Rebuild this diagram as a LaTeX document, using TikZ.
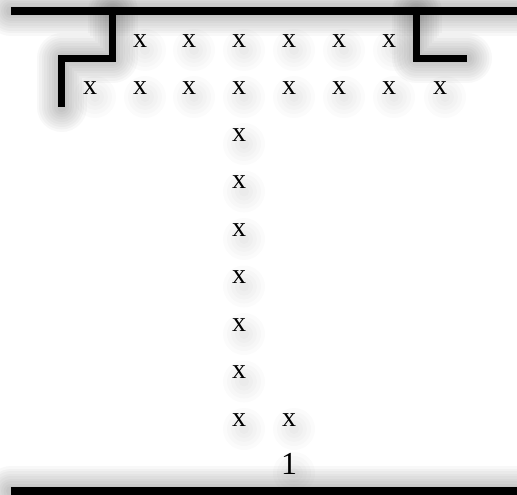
\documentclass[tikz,border=0pt]{standalone}
\usepackage{fontspec}
\setmainfont{Liberation Serif}
\pgfdeclarelayer{bg}
\pgfsetlayers{bg,main}
\tikzset{
  lbl/.style={inner sep=0pt,font=\fontsize{28}{28}\selectfont},
  numlbl/.style={inner sep=0pt,font=\fontsize{32}{32}\selectfont},
  wall/.style={line width=7.5pt,line cap=butt,line join=miter}
}
\newcommand\shadowpath[1]{%
  \begin{pgfonlayer}{bg}
  \foreach \w in {10,15,...,50}{\draw[black,opacity=0.028,line width=\w pt,line join=round,line cap=round,shift={(5,12)}] #1;}
  \end{pgfonlayer}}
\newcommand\shadowtext[1]{%
  \begin{pgfonlayer}{bg}
  \foreach \r in {5,9,...,22}{\fill[black,opacity=0.014] ([shift={(5,9)}]#1.center) circle (\r);}
  \end{pgfonlayer}}
\begin{document}
\begin{tikzpicture}[x=1pt,y=-1pt]
\useasboundingbox (0,0) rectangle (517,495);
% walls
\coordinate (tl) at (11,11);
\coordinate (tr) at (520,11);
\coordinate (l1) at (112.5,11);
\coordinate (l2) at (112.5,58.5);
\coordinate (l3) at (61.5,58.5);
\coordinate (l4) at (61.5,107);
\coordinate (r1) at (416.5,11);
\coordinate (r2) at (416.5,58.5);
\coordinate (r3) at (467,58.5);
\coordinate (bl) at (11,491);
\coordinate (br) at (520,491);
\shadowpath{(tl) -- (tr)}
\shadowpath{(l1) -- (l2) -- (l3) -- (l4)}
\shadowpath{(r1) -- (r2) -- (r3)}
\shadowpath{(bl) -- (br)}
\draw[wall] (tl) -- (tr);
\draw[wall] (l1) -- (l2) -- (l3) -- (l4);
\draw[wall] (r1) -- (r2) -- (r3);
\draw[wall] (bl) -- (br);
% row 1
\foreach \c/\xx in {1/140,2/189,3/239,4/289,5/339,6/389}{
  \node[lbl] (a\c) at (\xx,41) {x};
  \shadowtext{a\c}
}
% row 2
\foreach \c/\xx in {0/90,1/140,2/189,3/239,4/289,5/339,6/389,7/440}{
  \node[lbl] (b\c) at (\xx,88) {x};
  \shadowtext{b\c}
}
% column
\foreach \k/\yy in {1/135,2/182.5,3/230,4/277.5,5/325,6/372.5,7/420}{
  \node[lbl] (c\k) at (239,\yy) {x};
  \shadowtext{c\k}
}
\node[lbl] (d1) at (289,420) {x};
\shadowtext{d1}
\node[numlbl] (n1) at (289,464) {1};
\shadowtext{n1}
\end{tikzpicture}
\end{document}
